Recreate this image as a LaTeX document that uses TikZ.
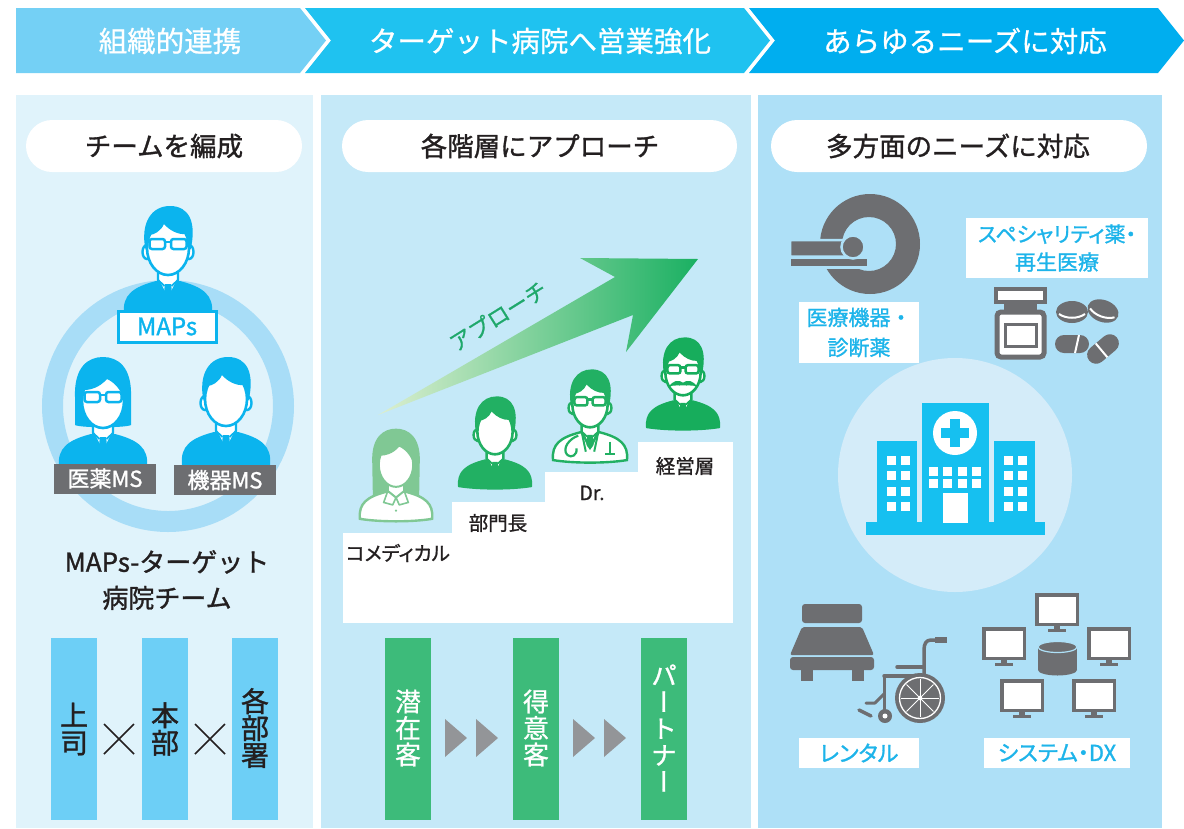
\documentclass[tikz,border=0pt]{standalone}
\usepackage{fontspec}
\usepackage{graphicx}
\setmainfont{Noto Sans CJK JP}
\newfontfamily\jp{Noto Sans CJK JP}[FakeBold=1.2]
\newfontfamily\jpp{Noto Sans CJK JP}[FakeBold=1.2,RawFeature=+palt]
\newfontfamily\jpv{Noto Sans CJK JP}[FakeBold=1.0,RawFeature=+vert]
\newfontfamily\jpw{Noto Sans CJK JP}[FakeBold=0.8]
\newcommand\fs[1]{\fontsize{#1}{#1}\selectfont}

\definecolor{hdrA}{HTML}{74D0F5}
\definecolor{hdrB}{HTML}{1FC2F0}
\definecolor{hdrC}{HTML}{00AEEF}
\definecolor{paneA}{HTML}{E0F3FB}
\definecolor{paneB}{HTML}{C5E9F8}
\definecolor{paneC}{HTML}{AEE0F7}
\definecolor{ink}{HTML}{231F20}
\definecolor{cyanT}{HTML}{1DB4EA}
\definecolor{iconBlue}{HTML}{0BB4EE}
\definecolor{ringBlue}{HTML}{A8DDF7}
\definecolor{grayIcon}{HTML}{6D6E71}
\definecolor{greenBar}{HTML}{3DBB7A}
\definecolor{greenMid}{HTML}{22B063}
\definecolor{greenDark}{HTML}{17AD5C}
\definecolor{greenLight}{HTML}{80C894}
\definecolor{greenText}{HTML}{1FA86B}
\definecolor{arrTail}{HTML}{DDEFD0}
\definecolor{arrMid}{HTML}{72C58B}
\definecolor{arrHead}{HTML}{1AB062}
\definecolor{triGray}{HTML}{939598}
\definecolor{hospBlue}{HTML}{16C0F0}
\definecolor{hospDisc}{HTML}{D4ECF9}
\definecolor{barBlue}{HTML}{6DCFF6}

% ---- person icon parts (local units, face centre at origin, y downwards)
\newcommand\jacket[1]{\fill[#1] (-44,62) .. controls (-46,43) and (-35,35) .. (-12,29) -- (12,29) .. controls (35,35) and (46,43) .. (44,62) .. controls (20,66) and (-20,66) .. (-44,62) -- cycle;}
\newcommand\coat[1]{\filldraw[fill=white,draw=#1,line width=2.4pt] (-44,62) .. controls (-46,43) and (-35,35) .. (-12,29) -- (12,29) .. controls (35,35) and (46,43) .. (44,62) .. controls (20,66) and (-20,66) .. (-44,62) -- cycle;}
\newcommand\shirt[1]{\filldraw[fill=white,draw=#1,line width=2.4pt,line join=round] (-10,10) -- (-10,28) -- (-1.5,45) -- (1.5,45) -- (10,28) -- (10,10);}
\newcommand\tie[1]{\fill[#1] (-3.2,32) -- (3.2,32) -- (4.2,44) -- (0,50) -- (-4.2,44) -- cycle;
  \draw[#1,line width=1.8pt] (-10,28) -- (-3.5,34) (10,28) -- (3.5,34);}
\newcommand\ears[1]{\filldraw[fill=white,draw=#1,line width=2.4pt] (-21,0) ellipse (4.5 and 7) (21,0) ellipse (4.5 and 7);}
\newcommand\face[1]{\filldraw[fill=white,draw=#1,line width=2.6pt] (0,-4) ellipse (21 and 27);}
\newcommand\shorthair[1]{\fill[#1] (-22.5,-2) .. controls (-28,-30) and (-16,-46) .. (2,-46) .. controls (21,-46) and (29,-30) .. (22.5,-2) .. controls (21,-9) and (20,-15) .. (18,-18) .. controls (10,-17) and (1,-22) .. (-4,-28) .. controls (-7,-21) and (-14,-17) .. (-19,-17) .. controls (-21,-11) and (-22,-6) .. (-22.5,-2) -- cycle;}
\newcommand\fringe[1]{\fill[#1] (-22,-2) .. controls (-26,-30) and (-13,-44) .. (2,-44) .. controls (18,-44) and (27,-28) .. (22,-2) .. controls (19,-15) and (11,-23) .. (4,-26) .. controls (-4,-17) and (-13,-15) .. (-19,-15) .. controls (-21,-10) and (-21.7,-5) .. (-22,-2) -- cycle;}
\newcommand\bob[1]{\fill[#1] (-28,20) -- (-28,-8) .. controls (-29,-38) and (-15,-48) .. (0,-48) .. controls (15,-48) and (29,-38) .. (28,-8) -- (28,20) .. controls (22,23) and (-22,23) .. (-28,20) -- cycle;}
\newcommand\longhair[1]{\fill[#1] (-28,46) -- (-29,-8) .. controls (-30,-38) and (-15,-48) .. (0,-48) .. controls (15,-48) and (30,-38) .. (29,-8) -- (28,46) -- cycle;}
\newcommand\specs[1]{\draw[#1,line width=2.5pt,rounded corners=2.5pt] (-18.5,-13) rectangle (-3,-3) (3,-13) rectangle (18.5,-3);
  \draw[#1,line width=2.5pt] (-3,-10) -- (3,-10) (-22,-10) -- (-18.5,-10) (18.5,-10) -- (22,-10);}
\newcommand\stache[1]{\fill[#1] (0,8) .. controls (-5,4) and (-12,5) .. (-17,13) .. controls (-11,10) and (-5,12) .. (0,11) .. controls (5,12) and (11,10) .. (17,13) .. controls (12,5) and (5,4) .. (0,8) -- cycle;}

% ---- computer screen with stand
\newcommand\monitor[4]{\fill[grayIcon] (#1,#2) rectangle ++(#3,#4);
  \fill[white] (#1+3.5,#2+3.5) rectangle ++(#3-7,#4-7);
  \fill[grayIcon] (#1+#3/2-3,#2+#4) rectangle ++(6,3);
  \fill[grayIcon] (#1+#3/2-9,#2+#4+2.5) rectangle ++(18,3);}

\tikzset{
  hdrtext/.style={text=white,inner sep=0pt,font=\jpw\fs{28.5}},
  pilltext/.style={text=ink,inner sep=0pt,font=\jp\fs{26.5}},
  steptext/.style={text=ink,inner sep=0pt,font=\jp\fs{19.5}},
  vtext/.style={inner sep=0pt,align=center},
  cyanbox/.style={fill=white,inner sep=0pt,text=cyanT,align=center},
}

\begin{document}
\begin{tikzpicture}[x=1pt,y=-1pt]
\useasboundingbox (0,0) rectangle (1184,828);
\fill[white] (0,0) rectangle (1184,828);

% ===== header chevrons
\fill[hdrA] (16,8) -- (300,8) -- (326,40.5) -- (300,73) -- (16,73) -- cycle;
\fill[hdrB] (305,8) -- (744,8) -- (770,40.5) -- (744,73) -- (305,73) -- (331,40.5) -- cycle;
\fill[hdrC] (749,8) -- (1158,8) -- (1184,40.5) -- (1158,73) -- (749,73) -- (775,40.5) -- cycle;
\node[hdrtext] (h1) at (170,41) {組織的連携};
\node[hdrtext] (h2) at (540,41) {ターゲット病院へ営業強化};
\node[hdrtext] (h3) at (965,41) {あらゆるニーズに対応};

% ===== panels
\fill[paneA] (16,95) rectangle (313,828);
\fill[paneB] (321,95) rectangle (751,828);
\fill[paneC] (758,95) rectangle (1162,828);

\fill[white,rounded corners=26pt] (26,120) rectangle (302,172);
\fill[white,rounded corners=26pt] (342,120) rectangle (737,172);
\fill[white,rounded corners=26pt] (771,120) rectangle (1147,172);
\node[pilltext] (p1) at (164,146) {チームを編成};
\node[pilltext] (p2) at (540,146) {各階層にアプローチ};
\node[pilltext] (p3) at (958,146) {多方面のニーズに対応};

% ===== panel 1: team
\draw[ringBlue,line width=21pt] (168,406) circle (115.5);

\begin{scope}[shift={(168,252)}]
  \jacket{iconBlue}\shirt{iconBlue}\tie{iconBlue}\ears{iconBlue}\face{iconBlue}\shorthair{iconBlue}\specs{iconBlue}
\end{scope}
\begin{scope}[shift={(103,405)}]
  \bob{iconBlue}\jacket{iconBlue}\shirt{iconBlue}\tie{iconBlue}\face{iconBlue}\fringe{iconBlue}\specs{iconBlue}
\end{scope}
\begin{scope}[shift={(226,403)}]
  \jacket{iconBlue}\shirt{iconBlue}\tie{iconBlue}\ears{iconBlue}\face{iconBlue}\shorthair{iconBlue}
\end{scope}

\node[draw=iconBlue,line width=3pt,fill=white,minimum width=98pt,minimum height=31pt,inner sep=0pt,text=iconBlue,font=\jp\fs{24}] (maps) at (167,326.5) {MAPs};
\node[fill=grayIcon,text=white,minimum width=102pt,minimum height=30pt,inner sep=0pt,font=\jp\fs{22}] (iyaku) at (105,478.5) {医薬MS};
\node[fill=grayIcon,text=white,minimum width=102pt,minimum height=30pt,inner sep=0pt,font=\jp\fs{22}] (kiki) at (225,480) {機器MS};

\node[text=ink,inner sep=0pt,align=center,font=\jp\fontsize{26}{36}\selectfont] (team) at (167,580) {MAPs-ターゲット\\病院チーム};

\fill[barBlue] (51,638) rectangle (97,820);
\fill[barBlue] (142,638) rectangle (188,820);
\fill[barBlue] (232,638) rectangle (278,820);
\node[vtext,text=ink,font=\jp\fontsize{28}{27.5}\selectfont] (b1) at (74,729) {上\\司};
\node[vtext,text=ink,font=\jp\fontsize{28}{27.5}\selectfont] (b2) at (165,729) {本\\部};
\node[vtext,text=ink,font=\jp\fontsize{28}{27}\selectfont] (b3) at (255,728) {各\\部\\署};
\draw[ink,line width=1.6pt] (104,724) -- (134,754) (104,754) -- (134,724);
\draw[ink,line width=1.6pt] (195,724) -- (225,754) (195,754) -- (225,724);

% ===== panel 2: approach
\shade[left color=arrTail,middle color=arrMid,right color=arrHead]
  (378,415) -- (615,277) -- (580,258) -- (698,259) -- (626,352) -- (633,315) -- cycle;
\node[text=greenText,inner sep=0pt,rotate=32,font=\jpw\fs{22}] (ap) at (498,316) {アプローチ};

\begin{scope}[shift={(396,468)},scale=0.82]
  \longhair{greenLight}\coat{greenLight}
  \filldraw[fill=white,draw=greenLight,line width=2pt] (-10,10) -- (-10,28) -- (0,36) -- (10,28) -- (10,10);
  \draw[greenLight,line width=1.6pt,line join=round] (-10,28) -- (-15,42) -- (-4,45) -- (0,36) -- (4,45) -- (15,42) -- (10,28);
  \fill[greenLight] (0,52) circle (1.5);
  \filldraw[fill=white,draw=greenLight,line width=2pt] (0,-4) ellipse (21 and 27);
  \fringe{greenLight}
\end{scope}
\begin{scope}[shift={(495,435)},scale=0.84]
  \jacket{greenMid}\shirt{greenMid}\tie{greenMid}\ears{greenMid}\face{greenMid}\shorthair{greenMid}
\end{scope}
\begin{scope}[shift={(590,408)},scale=0.84]
  \coat{greenMid}\shirt{greenMid}\tie{greenMid}
  \draw[greenMid,line width=2pt] (-10,28) -- (-5,52) (10,28) -- (5,52);
  \draw[greenMid,line width=2.2pt] (-14,33) .. controls (-24,36) and (-34,48) .. (-27,56) (-27,56) .. controls (-22,60) and (-15,56) .. (-16,48);
  \draw[greenMid,line width=2.2pt] (24,40) -- (24,55) (18,55) -- (30,55);
  \ears{greenMid}\face{greenMid}\shorthair{greenMid}\specs{greenMid}
\end{scope}
\begin{scope}[shift={(683,376)},scale=0.84]
  \jacket{greenDark}\shirt{greenDark}\tie{greenDark}\ears{greenDark}\face{greenDark}\shorthair{greenDark}\specs{greenDark}\stache{greenDark}
\end{scope}

\fill[white] (343,533) rectangle (452,623);
\fill[white] (452,502) rectangle (545,623);
\fill[white] (545,472) rectangle (638,623);
\fill[white] (638,442) rectangle (733,623);
\node[steptext,font=\jpp\fs{19.5}] (s1) at (398,553) {コメディカル};
\node[steptext] (s2) at (498,523) {部門長};
\node[steptext] (s3) at (592,493) {Dr.};
\node[steptext] (s4) at (685,466) {経営層};

\fill[greenBar] (385,638) rectangle (431,820);
\fill[greenBar] (513,638) rectangle (559,820);
\fill[greenBar] (641,638) rectangle (687,820);
\node[vtext,text=white,font=\jpw\fontsize{26}{26.5}\selectfont] (g1) at (408,728) {潜\\在\\客};
\node[vtext,text=white,font=\jpw\fontsize{26}{26.5}\selectfont] (g2) at (536,728) {得\\意\\客};
\node[vtext,text=white,font=\jpv\fontsize{26}{26.6}\selectfont] (g3) at (664,728) {パ\\ー\\ト\\ナ\\ー};
\foreach \tx in {445,476,573,604}
  \fill[triGray] (\tx,719) -- (\tx+22,738) -- (\tx,757) -- cycle;

% ===== panel 3: needs
\fill[hospDisc] (955,475) circle (117);

% CT scanner
\fill[grayIcon,even odd rule] (870,244) circle (50) (869,244) circle (27);
\filldraw[fill=grayIcon,draw=paneC,line width=2.5pt] (790,258) rectangle (868,267.5);
\filldraw[fill=grayIcon,draw=paneC,line width=2.5pt] (790,240) -- (844,240) .. controls (850,240) and (852,244) .. (852,250) -- (852,256.5) -- (790,256.5) -- cycle;
\filldraw[fill=grayIcon,draw=paneC,line width=2.5pt] (853,247) circle (11.5);
\node[cyanbox,minimum width=120pt,minimum height=61pt,font=\jp\fontsize{21}{30}\selectfont] (ct) at (859,332.5) {医療機器・\\診断薬};

% specialty drugs
\node[cyanbox,minimum width=182pt,minimum height=60pt,font=\jpp\fontsize{21}{28}\selectfont] (sp) at (1057,248) {スペシャリティ薬・\\再生医療};
\filldraw[fill=white,draw=grayIcon,line width=4pt] (996,289) rectangle (1045,302);
\fill[grayIcon] (1004,302) rectangle (1037,310);
\filldraw[fill=white,draw=grayIcon,line width=5pt,rounded corners=4pt] (997,312) rectangle (1044,357);
\draw[grayIcon,line width=3pt] (1005,324) rectangle (1036,346);
\begin{scope}[shift={(1072,312)}]
  \fill[grayIcon] (0,0) ellipse (16 and 11);
  \draw[white,line width=2pt] (-13,2) .. controls (-6,7) and (6,7) .. (13,2);
\end{scope}
\begin{scope}[shift={(1103,311)},rotate=-20]
  \fill[grayIcon] (0,0) ellipse (16 and 11);
  \draw[white,line width=2pt] (-13,2) .. controls (-6,7) and (6,7) .. (13,2);
\end{scope}
\begin{scope}[shift={(1072,344)}]
  \fill[grayIcon,rounded corners=9pt] (-17,-9) rectangle (17,9);
  \draw[white,line width=2pt] (7,-9) -- (3,9);
\end{scope}
\begin{scope}[shift={(1103,349)},rotate=40]
  \fill[grayIcon,rounded corners=9pt] (-18,-9) rectangle (18,9);
  \draw[white,line width=2pt] (-2,-9) -- (-2,9);
\end{scope}

% hospital
\fill[hospBlue] (866,522) rectangle (1045,535);
\fill[hospBlue] (877,441) rectangle (917,523);
\fill[hospBlue] (922,403) rectangle (989,523);
\fill[hospBlue] (994,441) rectangle (1035,523);
\fill[white] (955,433) circle (22);
\fill[hospBlue] (950,419) rectangle (960,447);
\fill[hospBlue] (941,428) rectangle (969,438);
\foreach \wx in {887,901,1004,1018}
  \foreach \wy in {456,471,487,502}
    \fill[white] (\wx,\wy) rectangle ++(9,9);
\foreach \wx in {929,943,958,972}
  \foreach \wy in {467,479}
    \fill[white] (\wx,\wy) rectangle ++(9,9);
\fill[white] (943,493) rectangle (968,522.5);

% bed
\fill[grayIcon,rounded corners=3pt] (802,604) rectangle (862,623);
\fill[grayIcon,rounded corners=2pt] (802,627) -- (862,627) -- (874,655) -- (790,655) -- cycle;
\fill[grayIcon,rounded corners=3pt] (790,657) rectangle (874,670);
\fill[grayIcon] (801,669) rectangle (813,681);
\fill[grayIcon] (852,669) rectangle (864,681);

% wheelchair
\draw[grayIcon,line width=3.5pt,line cap=round,line join=round]
  (943,640) -- (931,640) .. controls (926,640) and (924,644) .. (924,650) -- (924,690);
\fill[grayIcon] (935,637) rectangle (947,643);
\draw[grayIcon,line width=3.5pt,line cap=round] (897,667) -- (924,667);
\draw[grayIcon,line width=3.5pt,line cap=round] (884,676) -- (924,676);
\draw[grayIcon,line width=3pt,line cap=round,line join=round] (884,676) -- (884,710);
\draw[grayIcon,line width=3pt,line cap=round,line join=round] (884,694) -- (875,703) -- (866,703);
\draw[grayIcon,line width=3.5pt,line cap=round] (859,710) -- (871,716);
\fill[grayIcon] (920,698) circle (25);
\draw[white,line width=1.3pt] (920,698) circle (20.5);
\foreach \sa in {0,45,...,315}
  \draw[white,line width=1pt] (920,698) -- ++(\sa:19);
\fill[white] (920,698) circle (2.3);
\fill[grayIcon] (885,716) circle (7);
\fill[white] (885,716) circle (2.5);
\node[cyanbox,minimum width=120pt,minimum height=30pt,font=\jpp\fs{22}] (rent) at (859,753) {レンタル};

% systems
\monitor{1035}{593}{44}{33}
\monitor{982}{627}{44}{33}
\monitor{1087}{627}{44}{33}
\monitor{1000}{679}{44}{33}
\monitor{1072}{679}{44}{33}
\fill[grayIcon] (1038,647) rectangle (1077,670);
\fill[grayIcon] (1057.5,670) ellipse (19.5 and 5.5);
\filldraw[fill=grayIcon,draw=paneC,line width=1.2pt] (1057.5,647) ellipse (19.5 and 5.5);
\node[cyanbox,minimum width=146pt,minimum height=30pt,font=\jpp\fs{22}] (sys) at (1057,753) {システム・DX};

\end{tikzpicture}
\end{document}
